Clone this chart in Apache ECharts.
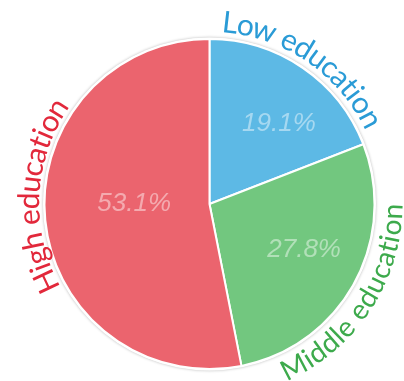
<!DOCTYPE html>
<html>
<head>
<meta charset="utf-8">
<script src="https://cdn.jsdelivr.net/npm/echarts@6/dist/echarts.min.js"></script>
<style>
  html, body { margin: 0; padding: 0; background: #ffffff; }
  #chart { width: 404px; height: 381px; }
</style>
</head>
<body>
<div id="chart"></div>
<script>
// Share of population by education level (%)
const categories = ['Low education', 'Middle education', 'High education'];
const shares = [19.1, 27.8, 53.1];
const sliceColors = ['#5DB9E5', '#72C77F', '#EB646E'];
const labelColors = ['#2A9BD6', '#3DAA4C', '#E2283B'];

// Label layout tweaks per slice (styling, not data)
const arcFontSizes = [30, 28, 30];
const arcRadii = [182, 184, 180];
const arcShiftDeg = [0, 4.5, 8.5];
const pctNudge = [[11, 5], [10, -1], [-10, -7]];

const cx = 209.5, cy = 204, R = 165;
const pctFont = 'italic 26px "Liberation Sans"';

const chart = echarts.init(document.getElementById('chart'), null, { renderer: 'canvas' });

const measureCtx = document.createElement('canvas').getContext('2d');

// Lay a label out letter by letter along a circle around the pie centre.
// Angles are measured clockwise from 12 o'clock, like the pie itself.
function arcLabel(text, midAngle, radius, font, color, flip) {
  measureCtx.font = font;
  const total = measureCtx.measureText(text).width;
  const chars = Array.from(text);
  const items = [];
  chars.forEach((ch, i) => {
    const start = measureCtx.measureText(text.slice(0, i)).width;
    const w = measureCtx.measureText(ch).width;
    const s = start + w / 2 - total / 2;
    const theta = flip ? midAngle - s / radius : midAngle + s / radius;
    if (ch === ' ') return;
    items.push({
      type: 'text',
      x: cx + radius * Math.sin(theta),
      y: cy - radius * Math.cos(theta),
      rotation: flip ? Math.PI - theta : -theta,
      silent: true,
      z: 10,
      style: { text: ch, font: font, fill: color, align: 'center', verticalAlign: 'middle' }
    });
  });
  return items;
}

const sum = shares.reduce((a, b) => a + b, 0);
const graphics = [{
  type: 'circle',
  shape: { cx: cx, cy: cy, r: R + 1.5 },
  z: 0,
  silent: true,
  style: { fill: '#ffffff', shadowBlur: 3, shadowColor: 'rgba(0,0,0,0.28)' }
}];

let acc = 0;
shares.forEach((v, i) => {
  const a0 = acc / sum * 2 * Math.PI;
  acc += v;
  const a1 = acc / sum * 2 * Math.PI;
  const mid = (a0 + a1) / 2;
  const half = (a1 - a0) / 2;
  // value label near the sector's centroid
  const d = 2 * R * Math.sin(half) / (3 * half);
  graphics.push({
    type: 'text',
    x: cx + d * Math.sin(mid) + pctNudge[i][0],
    y: cy - d * Math.cos(mid) + pctNudge[i][1],
    silent: true,
    z: 10,
    style: {
      text: v.toFixed(1) + '%',
      font: pctFont,
      fill: 'rgba(255,255,255,0.45)',
      align: 'center',
      verticalAlign: 'middle'
    }
  });
  // category name curved around the rim; lower labels read left to right
  const flip = Math.cos(mid) < -0.3;
  const labelMid = mid + arcShiftDeg[i] * Math.PI / 180;
  graphics.push(...arcLabel(categories[i], labelMid, arcRadii[i],
    arcFontSizes[i] + 'px Lato', labelColors[i], flip));
});

chart.setOption({
  animation: false,
  graphic: graphics,
  series: [{
    type: 'pie',
    center: [cx, cy],
    radius: R,
    startAngle: 90,
    clockwise: true,
    z: 2,
    label: { show: false },
    labelLine: { show: false },
    emphasis: { disabled: true },
    itemStyle: { borderColor: '#ffffff', borderWidth: 2 },
    data: categories.map((name, i) => ({
      name: name,
      value: shares[i],
      itemStyle: { color: sliceColors[i] }
    }))
  }]
});
</script>
</body>
</html>
